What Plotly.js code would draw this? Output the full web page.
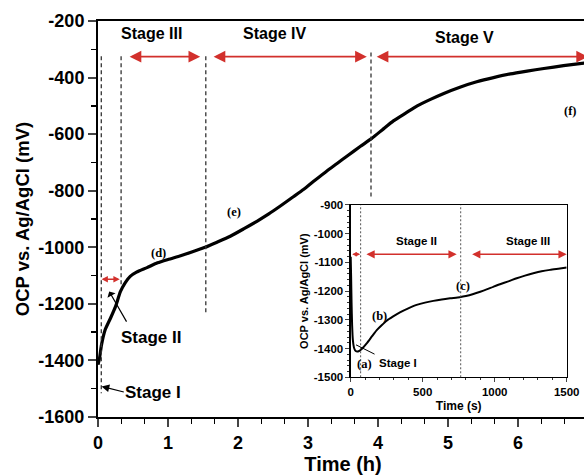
<!DOCTYPE html>
<html>
<head>
<meta charset="utf-8">
<script src="https://cdn.plot.ly/plotly-3.0.1.min.js"></script>
<style>
html,body{margin:0;padding:0;overflow:hidden;background:#fff;}
#chart{width:600px;height:475px;}
</style>
</head>
<body>
<div id="chart"></div>
<script>
// Main curve: OCP (mV) vs time (h)
const mainTime = [0, 0.02, 0.05, 0.1, 0.18, 0.25, 0.32, 0.39, 0.46, 0.55, 0.7, 0.85, 1.0, 1.18, 1.35, 1.53, 1.7, 1.89, 2.08, 2.27, 2.44, 2.6, 2.77, 2.94, 3.1, 3.27, 3.42, 3.56, 3.75, 3.91, 4.06, 4.22, 4.4, 4.56, 4.75, 4.94, 5.17, 5.41, 5.65, 5.89, 6.13, 6.37, 6.65, 6.95, 7.0];
const mainOcp  = [-1415, -1395, -1345, -1293, -1250, -1210, -1157, -1125, -1103, -1088, -1072, -1055, -1043, -1030, -1016, -1000, -982, -961, -935, -908, -882, -855, -825, -795, -763, -730, -703, -677, -643, -615, -585, -553, -525, -500, -477, -456, -434, -415, -400, -387, -377, -368, -358, -349, -348];

// Inset curve: OCP (mV) vs time (s)
const insetTime = [0, 3, 6, 10, 15, 22, 30, 40, 50, 60, 70, 85, 111, 150, 181, 215, 250, 295, 342, 400, 458, 516, 574, 632, 690, 757, 800, 852, 900, 944, 990, 1037, 1095, 1153, 1210, 1268, 1326, 1384, 1442, 1500];
const insetOcp  = [-1080, -1150, -1240, -1320, -1370, -1395, -1406, -1410, -1410, -1408, -1404, -1397, -1382, -1356, -1336, -1319, -1303, -1288, -1274, -1260, -1248, -1240, -1234, -1229, -1225, -1221, -1217, -1210, -1202, -1194, -1185, -1176, -1166, -1155, -1146, -1138, -1131, -1126, -1122, -1118];

// Tick labels
const mainXTicks = [0, 1, 2, 3, 4, 5, 6];
const mainYTicks = [-1600, -1400, -1200, -1000, -800, -600, -400, -200];
const insetXTicks = [0, 500, 1000, 1500];
const insetYTicks = [-1500, -1400, -1300, -1200, -1100, -1000, -900];

// Stage boundaries
const mainStageBounds  = [0.047, 0.33, 1.54, 3.9];   // h
const mainStageNames   = ["Stage III", "Stage IV", "Stage V"];
const mainStageLabelX  = [0.77, 2.52, 5.24];
const insetStageBounds = [69, 764];                  // s
const insetStageNames  = ["Stage II", "Stage III"];
const insetStageLabelX = [458, 1234];

// Point labels
const mainPointNames = ["(d)", "(e)", "(f)"];
const mainPointX = [0.87, 1.94, 6.75];
const mainPointY = [-1021, -877, -518];
const insetPointNames = ["(a)", "(b)", "(c)"];
const insetPointX = [93, 203, 781];
const insetPointY = [-1454, -1287, -1182];

const RED = '#d2302c';
const SANS = 'Arial, "Liberation Sans", sans-serif';
const tickFont = {family: SANS, size: 18, color: '#000', weight: 'bold'};
const insetTickFont = {family: SANS, size: 11.5, color: '#000', weight: 'bold'};
const serif = {family: '"Times New Roman", "Liberation Serif", serif', size: 12.5, color: '#000', weight: 'bold'};

const traces = [
  {x: mainTime, y: mainOcp, type: 'scatter', mode: 'lines', line: {color: '#000', width: 3.2, shape: 'spline', smoothing: 0.6}, xaxis: 'x', yaxis: 'y', hoverinfo: 'skip'},
  {x: insetTime, y: insetOcp, type: 'scatter', mode: 'lines', line: {color: '#000', width: 2, shape: 'spline', smoothing: 0.6}, xaxis: 'x2', yaxis: 'y2', hoverinfo: 'skip'}
];

const shapes = [];
const dashTop = -325;
const dashBottoms = [-1516, -1140, -1232, -824];
mainStageBounds.forEach((b, i) => {
  shapes.push({type: 'line', xref: 'x', yref: 'y', x0: b, x1: b, y0: i === 3 ? -311 : dashTop, y1: dashBottoms[i],
    line: {color: '#333', width: 1.3, dash: '4px,3px'}});
});
insetStageBounds.forEach(b => {
  shapes.push({type: 'line', xref: 'x2', yref: 'y2 domain', x0: b, x1: b, y0: 0, y1: 1,
    line: {color: '#555', width: 1, dash: '2px,2px'}});
});

const annotations = [];
function dblArrow(xa, ya, x0, x1, y, size, w) {
  annotations.push({xref: xa, yref: ya, axref: xa, ayref: ya, x: x1, y: y, ax: x0, ay: y, text: '',
    showarrow: true, arrowside: 'end+start', arrowhead: 2, arrowsize: size, arrowwidth: w, arrowcolor: RED});
}
// main red arrows
const arrowY = -326;
dblArrow('x', 'y', 0.43, 1.46, arrowY, 1.3, 1.8);
dblArrow('x', 'y', 1.63, 3.84, arrowY, 1.3, 1.8);
dblArrow('x', 'y', 3.96, 7.0, arrowY, 1.3, 1.8);
dblArrow('x', 'y', 0.03, 0.31, -1113, 0.9, 1.4);
// inset red arrows
const inArrowY = -1072;
dblArrow('x2', 'y2', 0, 66, inArrowY, 0.75, 1.2);
dblArrow('x2', 'y2', 99, 736, inArrowY, 1.1, 1.5);
dblArrow('x2', 'y2', 833, 1500, inArrowY, 1.1, 1.5);

const stageFont = {family: SANS, size: 16, color: '#000', weight: 'bold'};
mainStageNames.forEach((n, i) => {
  annotations.push({xref: 'x', yref: 'y', x: mainStageLabelX[i], y: i === 2 ? -258 : -245, text: n, showarrow: false, font: stageFont});
});
const bigStage = {family: SANS, size: 17, color: '#000', weight: 'bold'};
annotations.push({xref: 'x', yref: 'y', x: 0.75, y: -1318, text: 'Stage II', showarrow: false, font: bigStage});
annotations.push({xref: 'x', yref: 'y', x: 0.79, y: -1515, text: 'Stage I', showarrow: false, font: bigStage});
// black pointers
annotations.push({xref: 'x', yref: 'y', axref: 'x', ayref: 'y', x: 0.16, y: -1156, ax: 0.42, ay: -1268, text: '',
  showarrow: true, arrowhead: 1, arrowsize: 1.3, arrowwidth: 1.2, arrowcolor: '#000'});
annotations.push({xref: 'x', yref: 'y', axref: 'x', ayref: 'y', x: 0.05, y: -1492, ax: 0.39, ay: -1513, text: '',
  showarrow: true, arrowhead: 2, arrowsize: 1.3, arrowwidth: 1.2, arrowcolor: '#000'});
mainPointNames.forEach((n, i) => {
  annotations.push({xref: 'x', yref: 'y', x: mainPointX[i], y: mainPointY[i], text: n, showarrow: false, font: serif});
});

const inStageFont = {family: SANS, size: 11.5, color: '#000', weight: 'bold'};
insetStageNames.forEach((n, i) => {
  annotations.push({xref: 'x2', yref: 'y2', x: insetStageLabelX[i], y: -1024, text: n, showarrow: false, font: inStageFont});
});
annotations.push({xref: 'x2', yref: 'y2', x: 180, y: -1449, xanchor: 'left', text: 'Stage I', showarrow: false, font: inStageFont});
annotations.push({xref: 'x2', yref: 'y2', axref: 'x2', ayref: 'y2', x: 37, y: -1387, ax: 176, ay: -1422, text: '',
  showarrow: true, arrowhead: 0, arrowwidth: 1, arrowcolor: '#000'});
insetPointNames.forEach((n, i) => {
  annotations.push({xref: 'x2', yref: 'y2', x: insetPointX[i], y: insetPointY[i], text: n, showarrow: false,
    font: {family: serif.family, size: 12.5, color: '#000', weight: 'bold'}});
});

const hy = v => String(v); // plain hyphen-minus labels like the reference

const layout = {
  width: 600, height: 475,
  margin: {l: 98, r: 12, t: 21, b: 58},
  paper_bgcolor: '#fff', plot_bgcolor: 'rgba(0,0,0,0)',
  showlegend: false,
  xaxis: {
    domain: [0, 1], range: [0, 7], tickvals: mainXTicks, ticktext: mainXTicks.map(hy), ticks: 'outside', ticklen: 8, tickwidth: 2,
    showline: true, linewidth: 2, linecolor: '#000', mirror: true, showgrid: false, zeroline: false,
    tickfont: tickFont,
    minor: {dtick: 1/3, ticks: 'outside', ticklen: 5, tickwidth: 1.5, tickcolor: '#000', showgrid: false},
    title: {text: 'Time (h)', font: {family: SANS, size: 20, color: '#000', weight: 'bold'}, standoff: 4}
  },
  yaxis: {
    domain: [0, 1], range: [-1600, -200], tickvals: mainYTicks, ticktext: mainYTicks.map(hy), ticks: 'outside', ticklen: 8, tickwidth: 2,
    showline: true, linewidth: 2, linecolor: '#000', mirror: true, showgrid: false, zeroline: false,
    tickfont: tickFont,
    minor: {dtick: 100, ticks: 'outside', ticklen: 5, tickwidth: 1.5, tickcolor: '#000', showgrid: false},
    title: {text: 'OCP vs. Ag/AgCl (mV)', font: {family: SANS, size: 18.5, color: '#000', weight: 'bold'}, standoff: 4}
  },
  xaxis2: {
    domain: [0.5157, 0.9565], anchor: 'y2', range: [0, 1500], tickvals: insetXTicks, ticktext: insetXTicks.map(hy), ticks: 'outside', ticklen: 4, tickwidth: 1,
    showline: true, linewidth: 1.2, linecolor: '#000', mirror: true, showgrid: false, zeroline: false,
    tickfont: insetTickFont,
    minor: {dtick: 100, ticks: 'outside', ticklen: 2, tickwidth: 0.8, tickcolor: '#000', showgrid: false},
    title: {text: 'Time (s)', font: {family: SANS, size: 12, color: '#000', weight: 'bold'}, standoff: 4}
  },
  yaxis2: {
    domain: [0.1003, 0.5354], anchor: 'x2', range: [-1500, -900], tickvals: insetYTicks, ticktext: insetYTicks.map(hy), ticks: 'outside', ticklen: 4, tickwidth: 1,
    showline: true, linewidth: 1.2, linecolor: '#000', mirror: true, showgrid: false, zeroline: false,
    tickfont: insetTickFont,
    minor: {dtick: 20, ticks: 'outside', ticklen: 2, tickwidth: 0.8, tickcolor: '#000', showgrid: false},
    title: {text: 'OCP vs. Ag/AgCl (mV)', font: {family: SANS, size: 11, color: '#000', weight: 'bold'}, standoff: 3}
  },
  shapes: shapes,
  annotations: annotations
};

Plotly.newPlot('chart', traces, layout, {staticPlot: true, displayModeBar: false});
</script>
</body>
</html>
